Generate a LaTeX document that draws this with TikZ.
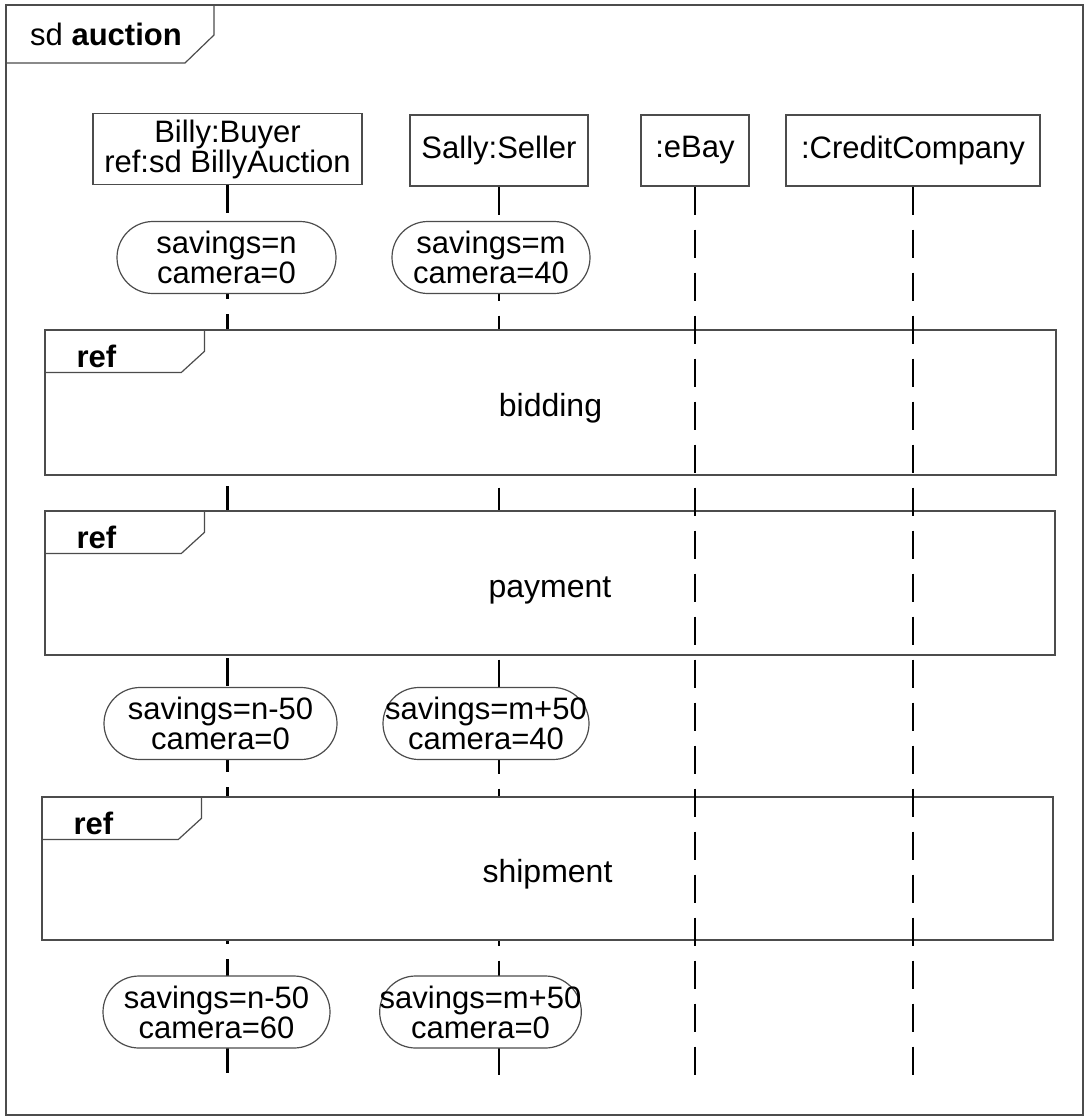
\documentclass[tikz,border=0pt]{standalone}
\usepackage{fontspec}
\setmainfont{Liberation Sans}
\usetikzlibrary{positioning}

\begin{document}
\begin{tikzpicture}[x=1pt, y=-1pt,
    frameline/.style={draw=black!70, line width=1.2pt},
    head/.style={rectangle, draw=black!70, line width=1.2pt, minimum height=71pt, inner sep=0pt, align=center, font=\fontsize{31}{30}\selectfont},
    state/.style={rectangle, rounded corners=36pt, draw=black!70, fill=white, line width=1.2pt, minimum height=72pt, inner sep=0pt, align=center, font=\fontsize{31}{30}\selectfont},
    refbox/.style={rectangle, draw=black!70, fill=white, line width=1.2pt, inner sep=0pt, text height=34pt, text depth=6pt, font=\fontsize{32}{30}\selectfont},
    reftag/.style={font=\fontsize{31}{30}\selectfont\bfseries, inner sep=0pt, anchor=west},
    lifeline/.style={draw=black, line width=2.6pt, dash pattern=on 28pt off 15pt}
]
    \useasboundingbox (0,0) rectangle (1088,1119);

    % outer frame
    \draw[frameline] (6,5) rectangle (1083,1115);
    \draw[frameline] (6,63) -- (185,63) -- (214,35) -- (214,5);
    \node[font=\fontsize{31}{30}\selectfont, inner sep=0pt, anchor=west] (title) at (30,34) {sd \textbf{auction}};

    % lifeline heads
    \node[head, minimum width=269pt] (billy) at (227.5,149) {Billy:Buyer\\ref:sd BillyAuction};
    \node[head, minimum width=178pt] (sally) at (499,150.5) {Sally:Seller};
    \node[head, minimum width=108pt] (ebay) at (695,150.5) {:eBay};
    \node[head, minimum width=254pt] (credit) at (913,150.5) {:CreditCompany};
    \coordinate (bottom) at (0,1088);

    \draw[lifeline] (billy) -- (billy |- bottom);
    \draw[lifeline] (sally) -- (sally |- bottom);

    % interaction uses
    \node[refbox, minimum width=1011pt, minimum height=145pt] (bidding) at (550.5,402.5) {bidding};
    \node[refbox, minimum width=1010pt, minimum height=144pt] (payment) at (550,583) {payment};
    \node[refbox, minimum width=1011pt, minimum height=143pt] (shipment) at (547.5,868.5) {shipment};
    \foreach \r in {bidding,payment,shipment} {
        \draw[frameline] ([shift={(0,43)}]\r.north west) -- ++(137,0) -- ++(23,-21) -- ++(0,-22);
        \node[reftag] (\r-tag) at ([shift={(32,27)}]\r.north west) {ref};
    }

    \draw[lifeline] (ebay) -- (ebay |- bottom);
    \draw[lifeline] (credit) -- ([yshift=11pt]credit |- bottom);

    % state invariants
    \node[state, minimum width=219pt] (bs1) at (226.5,257.5) {savings=n\\camera=0};
    \node[state, minimum width=198pt] (ss1) at (491,257.5) {savings=m\\camera=40};
    \node[state, minimum width=233pt] (bs2) at (220.5,723.5) {savings=n-50\\camera=0};
    \node[state, minimum width=206pt] (ss2) at (486,723.5) {savings=m+50\\camera=40};
    \node[state, minimum width=227pt] (bs3) at (216.5,1012) {savings=n-50\\camera=60};
    \node[state, minimum width=201pt] (ss3) at (480.5,1012) {savings=m+50\\camera=0};
\end{tikzpicture}
\end{document}
